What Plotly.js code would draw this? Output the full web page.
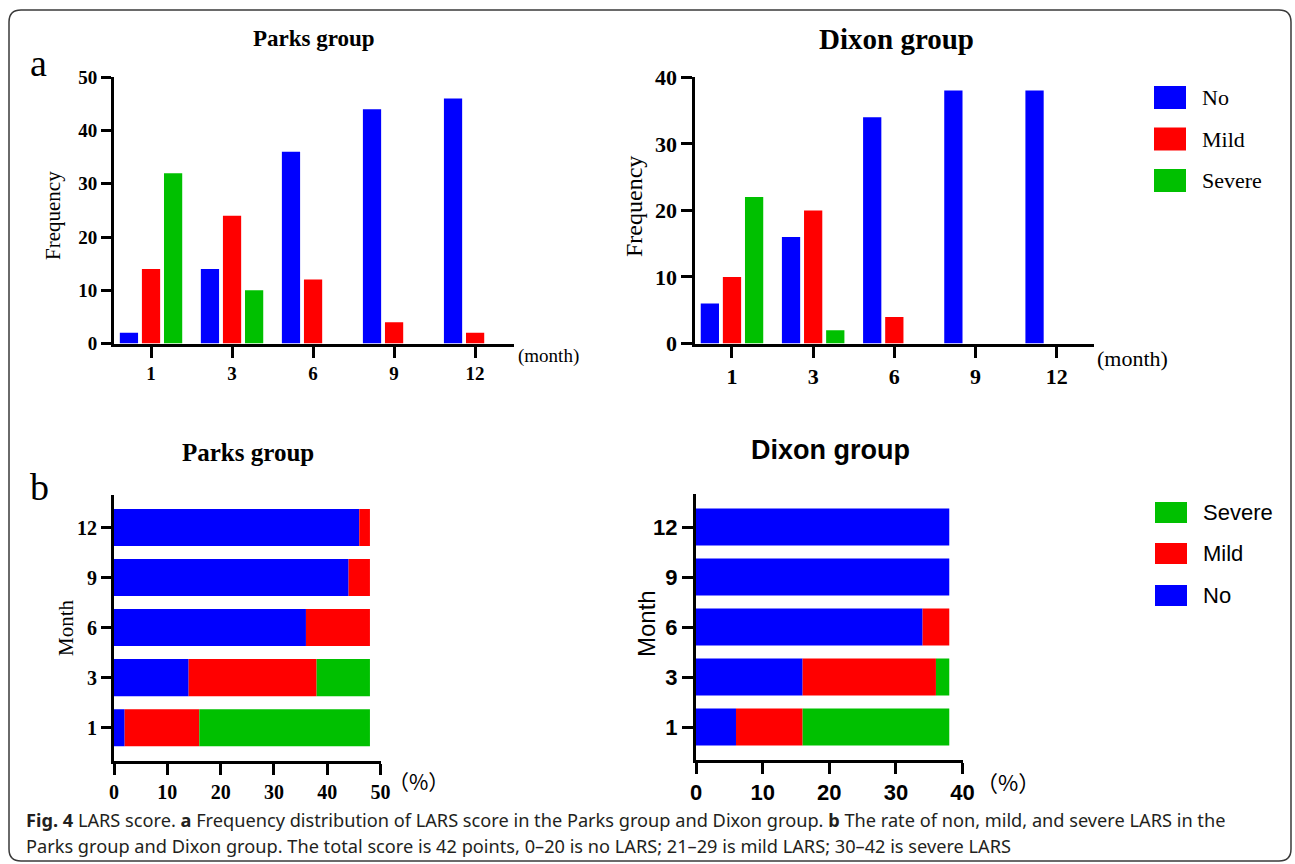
<!DOCTYPE html>
<html>
<head>
<meta charset="utf-8">
<script src="https://cdn.plot.ly/plotly-3.0.1.min.js"></script>
<style>html,body{margin:0;padding:0;background:#fff;}#chart{width:1295px;height:864px;}</style>
</head>
<body>
<div id="chart"></div>
<script>
// ---- data ----
const months = ['1', '3', '6', '9', '12'];
const seriesNames = ['No', 'Mild', 'Severe'];
const seriesColors = ['#0000FF', '#FF0000', '#00C000'];
const parksNo = [2, 14, 36, 44, 46];
const parksMild = [14, 24, 12, 4, 2];
const parksSevere = [32, 10, 0, 0, 0];
const dixonNo = [6, 16, 34, 38, 38];
const dixonMild = [10, 20, 4, 0, 0];
const dixonSevere = [22, 2, 0, 0, 0];
const parksTicksPct = [0, 10, 20, 30, 40, 50];
const dixonTicksPct = [0, 10, 20, 30, 40];

const W = 1295, H = 864;
const px = x => x / W;
const py = y => 1 - y / H;

const SERIF = 'Liberation Serif, Times New Roman, serif';
const SANS = 'Liberation Sans, Arial, sans-serif';

const parks = [parksNo, parksMild, parksSevere];
const dixon = [dixonNo, dixonMild, dixonSevere];

const traces = [];
// grouped bars (panel a)
const grpOffsets = [-0.385, -0.1125, 0.16];
const grpWidth = 0.225;
[[parks, 'x', 'y'], [dixon, 'x2', 'y2']].forEach(([grp, xa, ya]) => {
  grp.forEach((vals, i) => {
    traces.push({
      type: 'bar', x: months, y: vals, xaxis: xa, yaxis: ya,
      name: seriesNames[i], marker: {color: seriesColors[i], line: {width: 0}},
      offset: grpOffsets[i], width: grpWidth, showlegend: false, hoverinfo: 'x+y+name'
    });
  });
});
// stacked horizontal bars (panel b)
[[parks, 'x3', 'y3'], [dixon, 'x4', 'y4']].forEach(([grp, xa, ya]) => {
  let base = months.map(() => 0);
  grp.forEach((vals, i) => {
    traces.push({
      type: 'bar', orientation: 'h', y: months, x: vals, base: base.slice(),
      xaxis: xa, yaxis: ya, name: seriesNames[i],
      marker: {color: seriesColors[i], line: {width: 0}},
      offset: -0.37, width: 0.74, showlegend: false, hoverinfo: 'y+x+name'
    });
    base = base.map((b, k) => b + vals[k]);
  });
});

function axisCommon(font) {
  return {
    showline: true, linewidth: 3, linecolor: '#000', ticks: 'outside', tickwidth: 3,
    tickcolor: '#000', showgrid: false, zeroline: false, fixedrange: true,
    tickfont: font, mirror: false
  };
}
const fA = {family: SERIF, size: 19, color: '#000', weight: 'bold'};
const fA2 = {family: SERIF, size: 22, color: '#000', weight: 'bold'};
const fB = {family: SERIF, size: 20, color: '#000', weight: 'bold'};
const fB2 = {family: SANS, size: 22, color: '#000', weight: 'bold'};

const layout = {
  width: W, height: H, margin: {l: 0, r: 0, t: 0, b: 0},
  paper_bgcolor: '#fff', plot_bgcolor: 'rgba(0,0,0,0)',
  barmode: 'group', showlegend: false,
  xaxis: Object.assign(axisCommon(fA), {domain: [px(114), px(514)], anchor: 'y', type: 'category',
    range: [-0.457, 4.48], ticklen: 11, categoryorder: 'array', categoryarray: months}),
  yaxis: Object.assign(axisCommon(fA), {domain: [py(343.5), py(77.3)], anchor: 'x',
    range: [0, 50], dtick: 10, ticklen: 10}),
  xaxis2: Object.assign(axisCommon(fA2), {domain: [px(695.3), px(1094)], anchor: 'y2', type: 'category',
    range: [-0.452, 4.46], ticklen: 11, categoryorder: 'array', categoryarray: months}),
  yaxis2: Object.assign(axisCommon(fA2), {domain: [py(343.5), py(77.3)], anchor: 'x2',
    range: [0, 40], dtick: 10, ticklen: 11}),
  xaxis3: Object.assign(axisCommon(fB), {domain: [px(114), px(380.6)], anchor: 'y3',
    range: [0, 50], tickvals: parksTicksPct, ticklen: 11}),
  yaxis3: Object.assign(axisCommon(fB), {domain: [py(760.7), py(495)], anchor: 'x3', type: 'category',
    range: [-0.66, 4.65], ticklen: 10, categoryorder: 'array', categoryarray: months}),
  xaxis4: Object.assign(axisCommon(fB2), {domain: [px(696), px(962.6)], anchor: 'y4',
    range: [0, 40], tickvals: dixonTicksPct, ticklen: 11}),
  yaxis4: Object.assign(axisCommon(fB2), {domain: [py(760), py(494)], anchor: 'x4', type: 'category',
    range: [-0.66, 4.66], ticklen: 11, categoryorder: 'array', categoryarray: months}),
  annotations: [],
  shapes: []
};

function ann(text, x, y, font, opts) {
  layout.annotations.push(Object.assign({
    text: text, x: px(x), y: py(y), xref: 'paper', yref: 'paper',
    xanchor: 'center', yanchor: 'middle', showarrow: false, font: font
  }, opts || {}));
}
const serif = (s) => ({family: SERIF, size: s, color: '#000'});
const sans = (s) => ({family: SANS, size: s, color: '#000'});

// panel letters
ann('a', 38, 63, serif(38));
ann('b', 39, 487, serif(38));
// titles
ann('<b>Parks group</b>', 314, 38, serif(23));
ann('<b>Dixon group</b>', 896, 39, serif(29));
ann('<b>Parks group</b>', 248, 452, serif(25));
ann('<b>Dixon group</b>', 830, 450, sans(27));
// axis titles
ann('Frequency', 53, 216, serif(21), {textangle: -90});
ann('Frequency', 634, 207, serif(24), {textangle: -90});
ann('Month', 66, 628, serif(21), {textangle: -90});
ann('Month', 646, 624, sans(24), {textangle: -90});
ann('(month)', 548, 356, serif(19));
ann('(month)', 1132, 358, serif(22));
ann('（%）', 418, 781, {family: 'Noto Sans CJK SC, sans-serif', size: 21, color: '#000'});
ann('（%）', 1008, 781, {family: 'Noto Sans CJK SC, sans-serif', size: 22, color: '#000'});

// legends (built from series names/colours)
const legA = [97.5, 139, 180.5];
seriesNames.forEach((n, i) => {
  layout.shapes.push({type: 'rect', xref: 'paper', yref: 'paper', x0: px(1154), x1: px(1186),
    y0: py(legA[i] - 11.5), y1: py(legA[i] + 11.5), fillcolor: seriesColors[i], line: {width: 0}});
  ann(n, 1200, legA[i], serif(22), {xanchor: 'left'});
});
const legB = [512.5, 553.5, 595.5];
[2, 1, 0].forEach((si, k) => {
  layout.shapes.push({type: 'rect', xref: 'paper', yref: 'paper', x0: px(1155), x1: px(1187),
    y0: py(legB[k] - 10.5), y1: py(legB[k] + 10.5), fillcolor: seriesColors[si], line: {width: 0}});
  ann(seriesNames[si], 1201, legB[k], sans(22), {xanchor: 'left'});
});

// caption
const capFont = {family: 'Noto Sans, Open Sans, sans-serif', size: 18.2, color: '#231f20'};
ann('<b>Fig. 4</b> LARS score. <b>a</b> Frequency distribution of LARS score in the Parks group and Dixon group. <b>b</b> The rate of non, mild, and severe LARS in the',
  24, 820, capFont, {xanchor: 'left'});
ann('Parks group and Dixon group. The total score is 42 points, 0–20 is no LARS; 21–29 is mild LARS; 30–42 is severe LARS',
  24, 846, capFont, {xanchor: 'left'});

// frame (rounded rectangle)
(function () {
  const L = 9, T = 10, R = 1291, B = 861, r = 12;
  const P = (x, y) => px(x).toFixed(5) + ',' + py(y).toFixed(5);
  const d = 'M' + P(L + r, T) + ' L' + P(R - r, T) + ' Q' + P(R, T) + ' ' + P(R, T + r) +
    ' L' + P(R, B - r) + ' Q' + P(R, B) + ' ' + P(R - r, B) +
    ' L' + P(L + r, B) + ' Q' + P(L, B) + ' ' + P(L, B - r) +
    ' L' + P(L, T + r) + ' Q' + P(L, T) + ' ' + P(L + r, T) + ' Z';
  layout.shapes.push({type: 'path', xref: 'paper', yref: 'paper', path: d,
    line: {color: '#3a3a3a', width: 1.5}, layer: 'above'});
})();

Plotly.newPlot('chart', traces, layout, {staticPlot: true, displayModeBar: false});
</script>
</body>
</html>
